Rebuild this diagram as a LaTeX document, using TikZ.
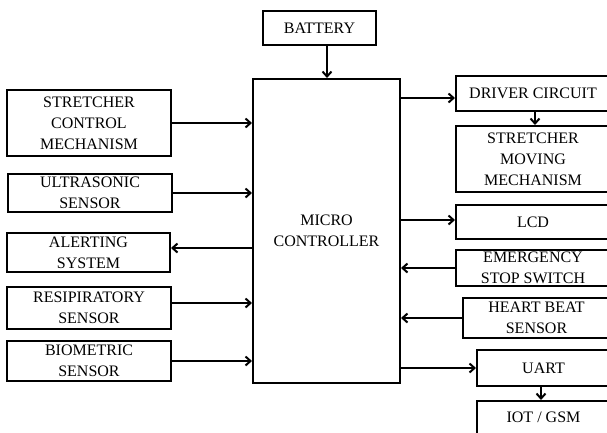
\documentclass[tikz,border=0pt]{standalone}
\usepackage{fontspec}
\setmainfont{Liberation Serif}
\usetikzlibrary{arrows.meta}
\begin{document}
\begin{tikzpicture}[x=1pt,y=-1pt,
  box/.style={draw, line width=2pt, inner sep=0pt, align=center,
    font=\fontsize{16}{21}\selectfont},
  conn/.style={line width=2pt, -{Straight Barb[length=5pt,width=9pt,line width=2pt]}}]
\useasboundingbox (0,0) rectangle (607,432);
\node[box, minimum width=113pt, minimum height=34pt] (bat) at (319.5,28) {BATTERY};
\node[box, minimum width=147pt, minimum height=304pt] (mcu) at (326.5,231) {MICRO\\CONTROLLER};
\node[box, minimum width=164pt, minimum height=66pt] (scm) at (89,123) {STRETCHER\\CONTROL\\MECHANISM};
\node[box, minimum width=164pt, minimum height=38pt] (ult) at (90,193) {ULTRASONIC\\SENSOR};
\node[box, minimum width=163pt, minimum height=39pt] (alr) at (88.5,252.5) {ALERTING\\SYSTEM};
\node[box, minimum width=164pt, minimum height=42pt] (res) at (89,308) {RESIPIRATORY\\SENSOR};
\node[box, minimum width=164pt, minimum height=40pt] (bio) at (89,361) {BIOMETRIC\\SENSOR};
\node[box, minimum width=154pt, minimum height=35pt] (drv) at (533,93.5) {DRIVER CIRCUIT};
\node[box, minimum width=154pt, minimum height=66pt] (smm) at (533,159) {STRETCHER\\MOVING\\MECHANISM};
\node[box, minimum width=154pt, minimum height=34pt] (lcd) at (533,222) {LCD};
\node[box, minimum width=154pt, minimum height=36pt] (emg) at (533,268) {EMERGENCY\\STOP SWITCH};
\node[box, minimum width=147pt, minimum height=40pt] (hb) at (536.5,318) {HEART BEAT\\SENSOR};
\node[box, minimum width=133pt, minimum height=36pt] (uart) at (543.5,368) {UART};
\node[box, minimum width=133pt, minimum height=44pt] (iot) at (543.5,423) {};
\node[font=\fontsize{16}{21}\selectfont] at (543.5,417) {IOT / GSM};
% connectors
\draw[conn] ([xshift=0.5pt]bat.south -| mcu.north) -- ([xshift=0.5pt]mcu.north);
\draw[conn] (scm.east) -- (scm.east -| mcu.west);
\draw[conn] (ult.east) -- (ult.east -| mcu.west);
\draw[conn] ([yshift=4.5pt]alr.east -| mcu.west) -- ([yshift=4.5pt]alr.east);
\draw[conn] ([yshift=5pt]res.east) -- ([yshift=5pt]res.east -| mcu.west);
\draw[conn] (bio.east) -- (bio.east -| mcu.west);
\draw[conn] ([yshift=-4.5pt]drv.west -| mcu.east) -- ([yshift=-4.5pt]drv.west);
\draw[conn] ([xshift=2pt]drv.south) -- ([xshift=2pt]smm.north);
\draw[conn] ([yshift=2pt]lcd.west -| mcu.east) -- ([yshift=2pt]lcd.west);
\draw[conn] (emg.west) -- (emg.west -| mcu.east);
\draw[conn] (hb.west) -- (hb.west -| mcu.east);
\draw[conn] (uart.west -| mcu.east) -- (uart.west);
\draw[conn] ([xshift=-2.5pt]uart.south) -- ([xshift=-2.5pt]iot.north);
\end{tikzpicture}
\end{document}
